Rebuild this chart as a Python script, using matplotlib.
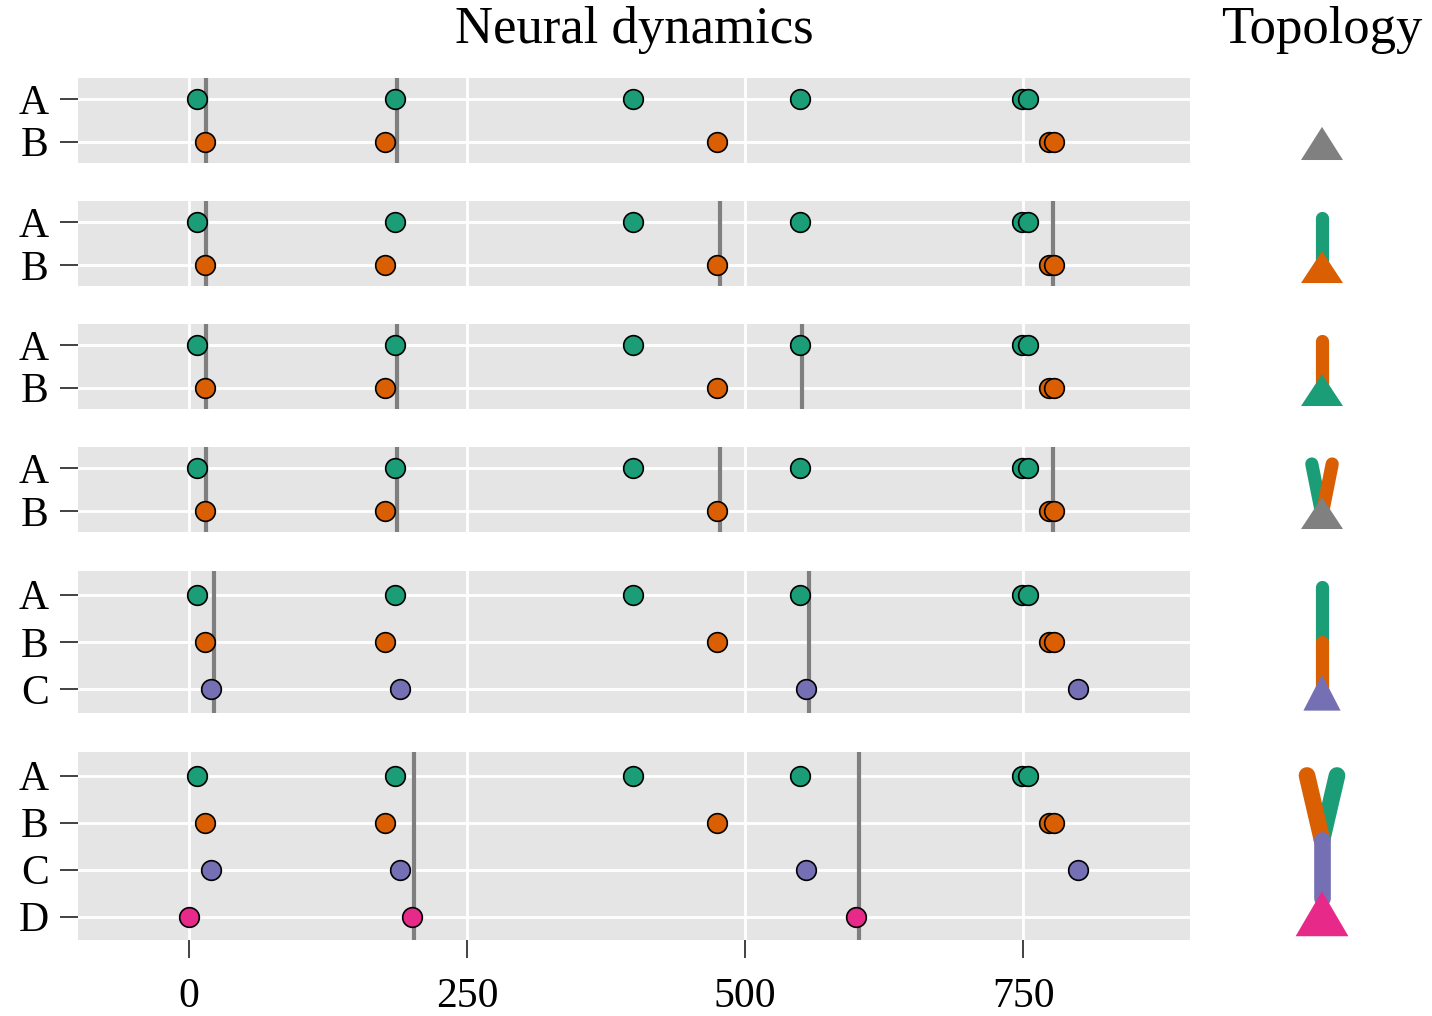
import matplotlib.pyplot as plt
import numpy as np

plt.rcParams['font.family'] = ['Liberation Serif', 'DejaVu Serif']

# spike times per neuron (same in every panel, rows shown vary)
spikes = {
    'A': [7, 185, 399, 549, 749, 754],
    'B': [14, 176, 475, 773, 778],
    'C': [20, 190, 555, 799],
    'D': [0, 200, 600],
}
colors = {'A': '#1B9E77', 'B': '#D95F02', 'C': '#7570B3', 'D': '#E7298A'}
panel_rows = [['A', 'B'], ['A', 'B'], ['A', 'B'], ['A', 'B'],
              ['A', 'B', 'C'], ['A', 'B', 'C', 'D']]
# gray vertical event lines for each panel
events = [[15, 187], [15, 477, 777], [15, 187, 551], [15, 187, 477, 777],
          [22, 557], [202, 602]]
xticks = [0, 250, 500, 750]

# topology: root triangle colour + branches (colour, x_top, y_top, x_bot, y_bot) in row units
topo_root = ['#808080', '#D95F02', '#1B9E77', '#808080', '#7570B3', '#E7298A']
topo_branches = [
    [],
    [('#1B9E77', 0, -0.1, 0, 1.1)],
    [('#D95F02', 0, -0.1, 0, 1.1)],
    [('#1B9E77', -0.17, -0.1, 0, 1.1), ('#D95F02', 0.17, -0.1, 0, 1.1)],
    [('#1B9E77', 0, -0.16, 0, 1.0), ('#D95F02', 0, 1.0, 0, 2.0)],
    [('#1B9E77', 0.25, 0.0, 0, 1.37), ('#D95F02', -0.25, 0.0, 0, 1.37),
     ('#7570B3', 0, 1.37, 0, 2.6)],
]
topo_tri = [(0.65, 1.43, 0.35), (0.68, 1.43, 0.35), (0.68, 1.43, 0.35),
            (0.68, 1.43, 0.35), (1.69, 2.45, 0.31), (2.46, 3.42, 0.44)]
topo_lw = [9.5, 9.5, 9.5, 9.5, 9.5, 12]

W, H = 1432, 1016
fig = plt.figure(figsize=(W / 100, H / 100), dpi=100)

# panel pixel bounds (top, bottom)
bounds = [(78, 163), (201, 286), (324, 409), (447, 532), (571, 713), (752, 940)]
left, right = 78, 1190

for i, (top, bot) in enumerate(bounds):
    ax = fig.add_axes([left / W, 1 - bot / H, (right - left) / W, (bot - top) / H])
    ax.set_facecolor('#E5E5E5')
    for s in ax.spines.values():
        s.set_visible(False)
    rows = panel_rows[i]
    n = len(rows)
    for x in xticks:
        ax.axvline(x, color='white', lw=2, zorder=0)
    for j in range(n):
        ax.axhline(j, color='white', lw=2, zorder=0)
    for e in events[i]:
        ax.axvline(e, color='#7f7f7f', lw=3, zorder=1)
    for j, r in enumerate(rows):
        ax.scatter(spikes[r], [j] * len(spikes[r]), s=200, color=colors[r],
                   edgecolor='black', linewidth=1.2, zorder=3)
    ax.set_xlim(-100, 900)
    ax.set_ylim(n - 0.5, -0.5)
    ax.set_yticks(range(n))
    ax.set_yticklabels(rows)
    ax.tick_params(axis='y', length=13, width=1.3, color='#333333', pad=8,
                   labelsize=30)
    ax.set_xticks(xticks)
    if i == len(bounds) - 1:
        ax.set_xticklabels([str(x) for x in xticks])
        ax.tick_params(axis='x', length=13, width=1.3, color='#333333', pad=14,
                       labelsize=30)
    else:
        ax.tick_params(axis='x', length=0, labelbottom=False)

    # topology icon
    tx = fig.add_axes([1262 / W, 1 - bot / H, 120 / W, (bot - top) / H])
    tx.set_xlim(-1, 1)
    tx.set_ylim(n - 0.5, -0.5)
    tx.axis('off')
    for (c, x0, y0, x1, y1) in topo_branches[i]:
        tx.plot([x0, x1], [y0, y1], color=c, lw=topo_lw[i],
                solid_capstyle='round', zorder=2)
    apex, base, hw = topo_tri[i]
    tx.fill([-hw, hw, 0], [base, base, apex], color=topo_root[i], lw=0, zorder=3)

fig.text(((left + right) / 2) / W, 1 - 30 / H, 'Neural dynamics', fontsize=38,
         ha='center', va='center')
fig.text(1322 / W, 1 - 30 / H, 'Topology', fontsize=38, ha='center', va='center')

fig.savefig('out.png', dpi=100)
